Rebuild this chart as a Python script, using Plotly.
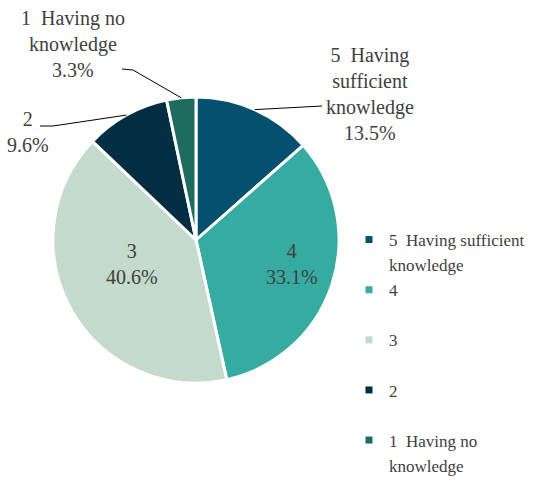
import math
import plotly.graph_objects as go

# Survey: self-rated level of knowledge (1 = none, 5 = sufficient)
categories = ["5  Having sufficient knowledge", "4", "3", "2", "1  Having no knowledge"]
shares = [13.5, 33.1, 40.6, 9.6, 3.3]
colors = ["#04506e", "#35aba1", "#c3dacd", "#032d43", "#1e6b60"]

# How each category name is wrapped in the labels and the legend
label_lines = [["5  Having", "sufficient", "knowledge"], ["4"], ["3"], ["2"],
               ["1  Having no", "knowledge"]]
legend_lines = [["5  Having sufficient", "knowledge"], ["4"], ["3"], ["2"],
                ["1  Having no", "knowledge"]]

W, H = 537, 477
CX, CY, R = 196, 240, 143
FONT = "Liberation Serif"
TEXT = "#404040"

fig = go.Figure()
fig.add_trace(go.Pie(
    labels=categories, values=shares, sort=False, direction="clockwise", rotation=0,
    marker=dict(colors=colors, line=dict(color="white", width=3)),
    textinfo="none",
    domain=dict(x=[(CX - R) / W, (CX + R) / W], y=[(H - CY - R) / H, (H - CY + R) / H]),
    showlegend=False, hoverinfo="label+percent",
))

# Data labels: slice index -> (leader-line elbow points, label centre)
label_layout = {
    0: ([(322, 106)], (370, 94)),
    1: (None, (292, 264)),
    2: (None, (132, 264)),
    3: ([(53, 126), (40, 126)], (28, 132)),
    4: ([(133, 70), (122, 69)], (73, 44)),
}

total = sum(shares)
cum = 0.0
mids = []
for v in shares:
    mids.append((cum + v / 2) / total * 2 * math.pi)
    cum += v

shapes, annotations = [], []
for i, (elbow, (lx, ly)) in label_layout.items():
    if elbow:
        a = mids[i]
        pts = [(CX + R * math.sin(a), CY - R * math.cos(a))] + elbow
        path = "M " + " L ".join(f"{x:.1f},{y:.1f}" for x, y in pts)
        shapes.append(dict(type="path", path=path, xref="x", yref="y",
                           line=dict(color="black", width=1)))
    annotations.append(dict(
        x=lx, y=ly, xref="x", yref="y", showarrow=False, align="center",
        text="<br>".join(label_lines[i] + [f"{shares[i]:.1f}%"]),
        font=dict(family=FONT, size=20, color=TEXT)))

# Legend built from marker-only entries, one row per text line
groups = ["a", "a", "b", "c", "d"]
for i, lines in enumerate(legend_lines):
    for j, line in enumerate(lines):
        fig.add_trace(go.Scatter(
            x=[None], y=[None], mode="markers", name=line,
            legendgroup=groups[i],
            marker=dict(symbol="square", size=7,
                        color=colors[i] if j == 0 else "rgba(0,0,0,0)"),
            showlegend=True, hoverinfo="skip"))

fig.update_layout(
    width=W, height=H, margin=dict(l=0, r=0, t=0, b=0, autoexpand=False),
    paper_bgcolor="white", plot_bgcolor="white",
    xaxis=dict(range=[0, W], visible=False, domain=[0, 1], fixedrange=True),
    yaxis=dict(range=[H, 0], visible=False, domain=[0, 1], fixedrange=True),
    shapes=shapes, annotations=annotations,
    legend=dict(x=349 / W, y=1 - 222 / H, xanchor="left", yanchor="top",
                traceorder="grouped", tracegroupgap=25,
                font=dict(family=FONT, size=17, color=TEXT),
                bgcolor="rgba(0,0,0,0)"),
)

fig.write_html("out.html")
